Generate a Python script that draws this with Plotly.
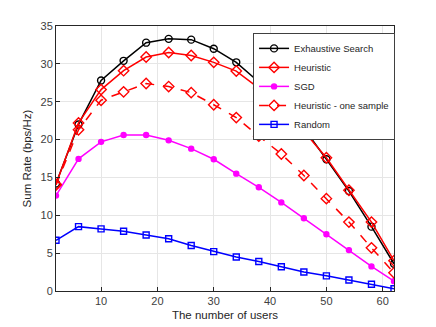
import plotly.graph_objects as go

# Datos
usuarios = [2, 6, 10, 14, 18, 22, 26, 30, 34, 38, 42, 46, 50, 54, 58, 62]
exhaustiva = [14.2, 22.0, 27.8, 30.4, 32.8, 33.3, 33.2, 32.0, 30.2, 27.6, 24.7, 21.5, 17.4, 13.2, 8.5, 3.6]
heuristica = [14.1, 22.2, 26.6, 29.1, 30.9, 31.5, 31.1, 30.2, 29.05, 26.8, 24.1, 21.1, 17.6, 13.3, 9.1, 4.0]
sgd = [12.6, 17.45, 19.7, 20.6, 20.6, 19.9, 18.8, 17.4, 15.5, 13.7, 11.7, 9.6, 7.5, 5.4, 3.25, 1.3]
una_muestra = [14.0, 21.3, 25.2, 26.3, 27.4, 27.0, 26.2, 24.6, 22.9, 20.45, 18.1, 15.25, 12.2, 9.1, 5.7, 2.4]
aleatorio = [6.7, 8.5, 8.2, 7.9, 7.4, 6.9, 6.0, 5.2, 4.5, 3.9, 3.2, 2.5, 2.0, 1.45, 0.9, 0.3]

series = [
    ('Exhaustive Search', exhaustiva, 'black', 'solid', 'circle-open', 7),
    ('Heuristic', heuristica, 'red', 'solid', 'diamond-open', 8),
    ('SGD', sgd, 'magenta', 'solid', 'circle', 5),
    ('Heuristic - one sample', una_muestra, 'red', 'dash', 'diamond-open', 8),
    ('Random', aleatorio, 'blue', 'solid', 'square-open', 6),
]

fig = go.Figure()
for nombre, y, color, dash, marcador, tam in series:
    fig.add_trace(go.Scatter(
        x=usuarios, y=y, name=nombre, mode='lines+markers',
        line=dict(color=color, width=1.5, dash=dash),
        marker=dict(symbol=marcador, size=tam, color=color, line=dict(color=color, width=1.4))
    ))

ejes = dict(
    showline=True, mirror=True, linecolor='#262626', linewidth=1,
    showgrid=True, gridcolor='#e6e6e6', gridwidth=1, zeroline=False,
    ticks='inside', ticklen=4, tickcolor='#262626',
    tickfont=dict(size=11, color='#404040'),
)

# la página tiene 8px de margen en el body
fig.update_layout(
    width=436, height=327,
    margin=dict(l=48, r=50, t=16, b=44),
    paper_bgcolor='white', plot_bgcolor='white',
    font=dict(family='Liberation Sans, Arial, sans-serif', size=11, color='#262626'),
    xaxis=dict(range=[2, 62], tickvals=[10, 20, 30, 40, 50, 60],
               title=dict(text='The number of users', standoff=4, font=dict(size=11.5)), **ejes),
    yaxis=dict(range=[0, 35], tickvals=[0, 5, 10, 15, 20, 25, 30, 35],
               title=dict(text='Sum Rate (bps/Hz)', standoff=6, font=dict(size=11.5)), **ejes),
    legend=dict(x=0.583, y=0.974, xanchor='left', yanchor='top',
                bgcolor='white', bordercolor='#404040', borderwidth=1,
                font=dict(size=9.5, color='#262626'), tracegroupgap=0, itemwidth=30),
    showlegend=True,
)

fig.write_html("out.html")
